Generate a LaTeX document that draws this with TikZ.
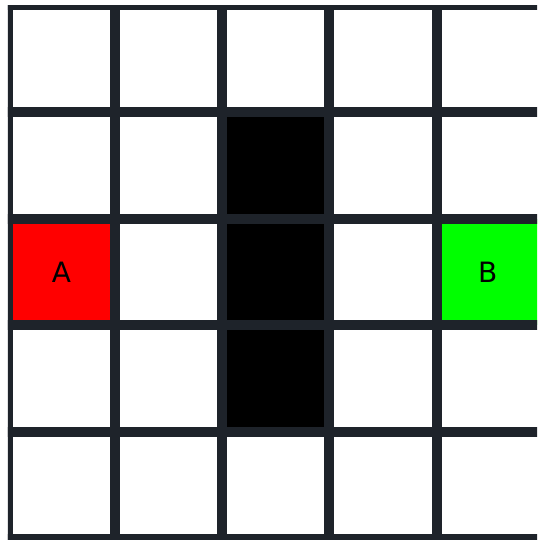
\documentclass[tikz,border=0pt]{standalone}
\usepackage{fontspec}
\setmainfont{DejaVu Sans}
\definecolor{gridc}{HTML}{1E232A}
\definecolor{cellred}{HTML}{FF0000}
\definecolor{cellgreen}{HTML}{00FF00}
\begin{document}
\begin{tikzpicture}[x=0.75pt,y=-0.75pt,
  gridline/.style={draw=gridc,line width=7.6pt},
  cell/.style={minimum width=80.4pt,minimum height=80pt,inner sep=0pt,outer sep=0pt,
    font=\fontsize{21}{25}\selectfont}]
\useasboundingbox (0,0) rectangle (537,540);
\fill[white] (0,0) rectangle (537,540);
\begin{scope}
\clip (7.8,5.3) rectangle (537,540);
\node[cell,fill=cellred] (A) at (61.4,272.05) {A};
\node[cell,fill=cellgreen] (B) at (490.2,272.05) {};
\node[cell] (Blabel) at (487.8,272.05) {B};
\node[cell,fill=black] (w1) at (275.8,165.35) {};
\node[cell,fill=black] (w2) at (275.8,272.05) {};
\node[cell,fill=black] (w3) at (275.8,378.75) {};
\foreach \i in {0,...,5}{
  \draw[gridline] ({7.8+107.2*\i},0) -- ({7.8+107.2*\i},560);
  \draw[gridline] (0,{5.3+106.7*\i}) -- (560,{5.3+106.7*\i});
}
\end{scope}
\end{tikzpicture}
\end{document}
